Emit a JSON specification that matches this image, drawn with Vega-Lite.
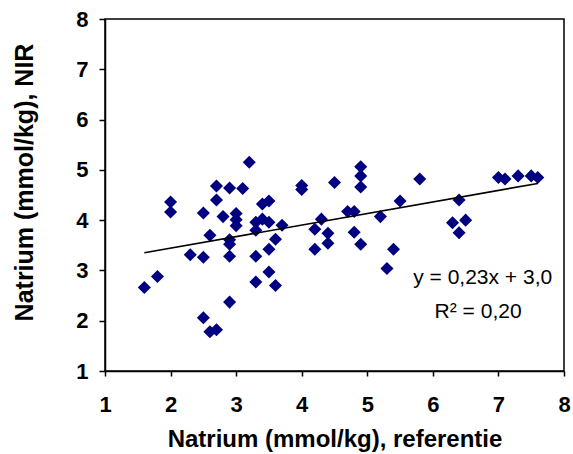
{
  "$schema": "https://vega.github.io/schema/vega-lite/v6.json",
  "autosize": "none",
  "width": 459,
  "height": 352,
  "padding": {"left": 105, "top": 19, "right": 9, "bottom": 83},
  "background": "white",
  "config": {
    "view": {"stroke": "black", "strokeWidth": 1.5},
    "font": "Liberation Sans",
    "axis": {"grid": false, "domainColor": "black", "tickColor": "black", "labelColor": "black", "titleColor": "black", "domainWidth": 1.5, "tickWidth": 1.5}
  },
  "datasets": {
    "points": [
      {"ref": 1.6, "nir": 2.66}, {"ref": 1.8, "nir": 2.88}, {"ref": 2.0, "nir": 4.36}, {"ref": 2.0, "nir": 4.16},
      {"ref": 2.3, "nir": 3.31}, {"ref": 2.5, "nir": 4.14}, {"ref": 2.5, "nir": 3.26}, {"ref": 2.5, "nir": 2.06},
      {"ref": 2.6, "nir": 3.70}, {"ref": 2.6, "nir": 1.78}, {"ref": 2.7, "nir": 1.82}, {"ref": 2.7, "nir": 4.68},
      {"ref": 2.7, "nir": 4.40}, {"ref": 2.8, "nir": 4.07}, {"ref": 2.9, "nir": 4.64}, {"ref": 2.9, "nir": 3.61},
      {"ref": 2.9, "nir": 3.52}, {"ref": 2.9, "nir": 3.28}, {"ref": 2.9, "nir": 2.37}, {"ref": 3.0, "nir": 4.13},
      {"ref": 3.0, "nir": 4.01}, {"ref": 3.0, "nir": 3.89}, {"ref": 3.1, "nir": 4.63}, {"ref": 3.2, "nir": 5.15},
      {"ref": 3.3, "nir": 3.96}, {"ref": 3.3, "nir": 3.80}, {"ref": 3.3, "nir": 3.28}, {"ref": 3.3, "nir": 2.77},
      {"ref": 3.4, "nir": 4.02}, {"ref": 3.4, "nir": 4.32}, {"ref": 3.5, "nir": 4.38}, {"ref": 3.5, "nir": 3.96},
      {"ref": 3.5, "nir": 3.42}, {"ref": 3.5, "nir": 2.97}, {"ref": 3.6, "nir": 3.62}, {"ref": 3.6, "nir": 2.70},
      {"ref": 3.7, "nir": 3.90}, {"ref": 4.0, "nir": 4.69}, {"ref": 4.0, "nir": 4.61}, {"ref": 4.2, "nir": 3.82},
      {"ref": 4.2, "nir": 3.42}, {"ref": 4.3, "nir": 4.02}, {"ref": 4.4, "nir": 3.74}, {"ref": 4.4, "nir": 3.54},
      {"ref": 4.5, "nir": 4.75}, {"ref": 4.7, "nir": 4.17}, {"ref": 4.8, "nir": 4.17}, {"ref": 4.8, "nir": 3.76},
      {"ref": 4.9, "nir": 5.06}, {"ref": 4.9, "nir": 4.88}, {"ref": 4.9, "nir": 4.66}, {"ref": 4.9, "nir": 3.52},
      {"ref": 5.2, "nir": 4.07}, {"ref": 5.3, "nir": 3.04}, {"ref": 5.4, "nir": 3.42}, {"ref": 5.5, "nir": 4.38},
      {"ref": 5.8, "nir": 4.82}, {"ref": 6.3, "nir": 3.95}, {"ref": 6.4, "nir": 4.40}, {"ref": 6.4, "nir": 3.75},
      {"ref": 6.5, "nir": 4.00}, {"ref": 7.0, "nir": 4.85}, {"ref": 7.1, "nir": 4.82}, {"ref": 7.3, "nir": 4.88},
      {"ref": 7.5, "nir": 4.88}, {"ref": 7.6, "nir": 4.85}
    ],
    "trend": [{"ref": 1.6, "nir": 3.35}, {"ref": 7.6, "nir": 4.73}],
    "labels": [
      {"ref": 6.76, "nir": 2.84, "label": "y = 0,23x + 3,0"},
      {"ref": 6.69, "nir": 2.18, "label": "R² = 0,20"}
    ]
  },
  "layer": [
    {
      "data": {"name": "points"},
      "mark": {"type": "point", "shape": "diamond", "filled": true, "color": "#000080", "opacity": 1, "size": 170},
      "encoding": {
        "x": {"field": "ref", "type": "quantitative", "scale": {"domain": [1, 8], "nice": false, "zero": false},
          "axis": {"values": [1, 2, 3, 4, 5, 6, 7, 8], "format": "d", "title": "Natrium (mmol/kg), referentie", "labelFontSize": 22, "labelFontWeight": "bold", "titleFontSize": 24, "titleFontWeight": "bold", "tickSize": 5, "labelPadding": 18, "titlePadding": 12, "labelFlush": false}},
        "y": {"field": "nir", "type": "quantitative", "scale": {"domain": [1, 8], "nice": false, "zero": false},
          "axis": {"values": [1, 2, 3, 4, 5, 6, 7, 8], "format": "d", "title": "Natrium (mmol/kg), NIR", "labelFontSize": 22, "labelFontWeight": "bold", "titleFontSize": 25, "titleFontWeight": "bold", "tickSize": 6, "labelPadding": 11, "titlePadding": 38, "titleY": 163, "labelFlush": false}}
      }
    },
    {
      "data": {"name": "trend"},
      "mark": {"type": "line", "color": "black", "strokeWidth": 1.6},
      "encoding": {
        "x": {"field": "ref", "type": "quantitative"},
        "y": {"field": "nir", "type": "quantitative"}
      }
    },
    {
      "data": {"name": "labels"},
      "mark": {"type": "text", "fontSize": 21, "color": "black", "align": "center", "baseline": "middle"},
      "encoding": {
        "x": {"field": "ref", "type": "quantitative"},
        "y": {"field": "nir", "type": "quantitative"},
        "text": {"field": "label"}
      }
    }
  ]
}
